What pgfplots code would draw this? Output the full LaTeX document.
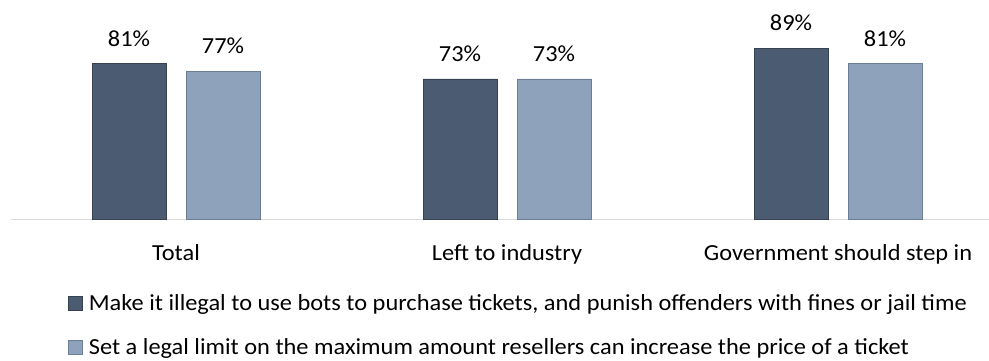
\documentclass[border=0pt]{standalone}
\usepackage{pgfplots}
\pgfplotsset{compat=1.18}
\usepackage{fontspec}
\setmainfont[FakeStretch=1.06]{Carlito}
\definecolor{darkbar}{HTML}{4B5B71}
\definecolor{darkedge}{HTML}{36424F}
\definecolor{lightbar}{HTML}{8EA2BC}
\definecolor{lightedge}{HTML}{6C7E96}
\definecolor{axisgray}{HTML}{D9D9D9}
\newcommand{\lab}{\fontsize{23}{27}\selectfont}
\begin{document}
\begin{tikzpicture}[x=1pt,y=1pt]
\useasboundingbox (0,0) rectangle (989,360);
\begin{axis}[
  at={(10.5pt,140.5pt)}, anchor=south west,
  scale only axis, width=978.5pt, height=192.6pt,
  xmin=-0.5, xmax=2.456, ymin=0, ymax=100,
  axis y line=none, axis x line*=bottom,
  x axis line style={draw=axisgray, line width=1.5pt, -},
  ybar=20pt, bar width=74pt,
  xtick={0,1,2}, major tick length=0pt,
  xticklabels={Total, Left to industry, Government should step in},
  xticklabel style={font=\lab, yshift=-21pt},
  /pgf/number format/assume math mode=true,
  nodes near coords={\pgfmathprintnumber{\pgfplotspointmeta}\%},
  every node near coord/.append style={font=\lab, anchor=center, yshift=25pt, text=black},
  legend style={at={(axis description cs:0.0588,-0.378)}, anchor=north west,
    draw=none, fill=none, font=\lab, row sep=22.5pt, inner sep=0pt,
    /tikz/every even column/.append style={column sep=0pt}},
  legend cell align=left,
  legend image code/.code={\draw[#1, line width=0.8pt] (0pt,-7pt) rectangle (14pt,7pt);},
]
\addplot[fill=darkbar, draw=darkedge, line width=0.8pt] coordinates {(0,81) (1,73) (2,89)};
\addplot[fill=lightbar, draw=lightedge, line width=0.8pt] coordinates {(0,77) (1,73) (2,81)};
\legend{{\,Make it illegal to use bots to purchase tickets, and punish offenders with fines or jail time},
{\,Set a legal limit on the maximum amount resellers can increase the price of a ticket}}
\end{axis}
\end{tikzpicture}
\end{document}
